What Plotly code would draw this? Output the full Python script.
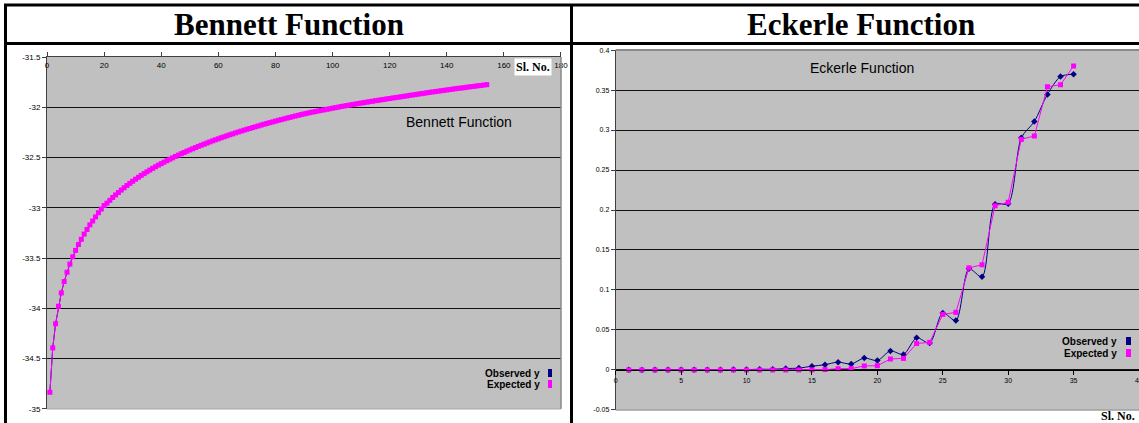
import plotly.graph_objects as go

# ---------------- data ----------------
bennett_sl_no = list(range(1, 155))
bennett_observed = [
    -34.8347, -34.3932, -34.1529, -33.9791, -33.8459, -33.7329, -33.6403, -33.5592, -33.4868, -33.4231,
    -33.3651, -33.3130, -33.2609, -33.2150, -33.1691, -33.1305, -33.0900, -33.0485, -33.0118, -32.9768,
    -32.953, -32.925, -32.897, -32.871, -32.847, -32.823, -32.800, -32.777, -32.756, -32.735,
    -32.715, -32.696, -32.677, -32.659, -32.641, -32.624, -32.607, -32.591, -32.575, -32.560,
    -32.545, -32.530, -32.516, -32.502, -32.488, -32.475, -32.461, -32.449, -32.436, -32.424,
    -32.412, -32.400, -32.388, -32.377, -32.366, -32.355, -32.344, -32.333, -32.323, -32.313,
    -32.302, -32.293, -32.283, -32.273, -32.264, -32.254, -32.245, -32.236, -32.227, -32.218,
    -32.210, -32.201, -32.193, -32.185, -32.176, -32.168, -32.160, -32.152, -32.145, -32.137,
    -32.129, -32.122, -32.115, -32.107, -32.100, -32.093, -32.086, -32.079, -32.072, -32.065,
    -32.059, -32.053, -32.047, -32.042, -32.036, -32.030, -32.025, -32.019, -32.014, -32.008,
    -32.003, -31.998, -31.992, -31.987, -31.982, -31.977, -31.972, -31.967, -31.962, -31.957,
    -31.953, -31.948, -31.943, -31.939, -31.934, -31.930, -31.925, -31.921, -31.916, -31.912,
    -31.907, -31.903, -31.899, -31.895, -31.890, -31.886, -31.881, -31.877, -31.873, -31.868,
    -31.864, -31.860, -31.855, -31.851, -31.847, -31.843, -31.839, -31.835, -31.831, -31.827,
    -31.823, -31.819, -31.815, -31.811, -31.808, -31.804, -31.800, -31.796, -31.793, -31.789,
    -31.785, -31.782, -31.778, -31.774,
]
bennett_expected = list(bennett_observed)

eckerle_sl_no = list(range(1, 36))
eckerle_observed = [
    0.0001575, 0.0000710, 0.0001699, 0.0001143, 0.0002350, 0.0001586, 0.0003102, 0.0002345,
    0.0004917, 0.0004579, 0.0008710, 0.0008800, 0.0017418, 0.0022732, 0.0046400, 0.0065895,
    0.0097302, 0.0074357, 0.0149002, 0.0117831, 0.0237310, 0.0194023, 0.0401683, 0.0337200,
    0.0712559, 0.0616764, 0.1264458, 0.1164354, 0.2073413, 0.2078154, 0.2902366, 0.3106727,
    0.3445623, 0.3668534, 0.3698049,
]
eckerle_expected = [
    0.0, 0.0, 0.0, 0.0, 0.0, 0.0, 0.0, 0.0, 0.0, 0.0, 0.0, 0.0, 0.0000004, 0.0000143,
    0.000106, 0.000438, 0.00158, 0.00169, 0.0050, 0.0053, 0.0137, 0.0144, 0.0330, 0.0345,
    0.0694, 0.0720, 0.1276, 0.1315, 0.2052, 0.2098, 0.2883, 0.2926, 0.3541, 0.3567, 0.3802,
]

bennett_x_ticks = [0, 20, 40, 60, 80, 100, 120, 140, 160, 180]
bennett_y_ticks = [-35, -34.5, -34, -33.5, -33, -32.5, -32, -31.5]
bennett_y_labels = ["-35", "-34.5", "-34", "-33.5", "-33", "-32.5", "-32", "-31.5"]
eckerle_x_ticks = [0, 5, 10, 15, 20, 25, 30, 35, 40]
eckerle_y_ticks = [-0.05, 0, 0.05, 0.1, 0.15, 0.2, 0.25, 0.3, 0.35, 0.4]
eckerle_y_labels = ["-0.05", "0", "0.05", "0.1", "0.15", "0.2", "0.25", "0.3", "0.35", "0.4"]

titles = ["Bennett Function", "Eckerle Function"]
series_names = ["Observed y", "Expected y"]

# ---------------- styling ----------------
W, H = 1139, 423
NAVY = "#000080"
MAGENTA = "#FF00FF"
SANS = "Liberation Sans, Arial, sans-serif"
SERIF = "Liberation Serif, Times New Roman, serif"


def px(x):
    return x / W


def py(y):
    return 1 - y / H


fig = go.Figure()

fig.add_trace(go.Scatter(
    x=bennett_sl_no, y=bennett_observed, mode="lines+markers", name=series_names[0],
    line=dict(color=NAVY, width=1), marker=dict(color=NAVY, size=3, symbol="diamond"),
    xaxis="x", yaxis="y", showlegend=False))
fig.add_trace(go.Scatter(
    x=bennett_sl_no, y=bennett_expected, mode="lines+markers", name=series_names[1],
    line=dict(color=MAGENTA, width=1), marker=dict(color=MAGENTA, size=5, symbol="square"),
    xaxis="x", yaxis="y", showlegend=False))
fig.add_trace(go.Scatter(
    x=eckerle_sl_no, y=eckerle_observed, mode="lines+markers", name=series_names[0],
    line=dict(color=NAVY, width=1, shape="spline", smoothing=0.8),
    marker=dict(color=NAVY, size=5, symbol="diamond"),
    xaxis="x2", yaxis="y2", showlegend=False))
fig.add_trace(go.Scatter(
    x=eckerle_sl_no, y=eckerle_expected, mode="lines+markers", name=series_names[1],
    line=dict(color=MAGENTA, width=1), marker=dict(color=MAGENTA, size=5, symbol="square"),
    xaxis="x2", yaxis="y2", showlegend=False))

# plot areas in pixels
L_X0, L_X1, L_Y0, L_Y1 = 47, 561, 57, 409
R_X0, R_X1, R_Y0, R_Y1 = 615.7, 1139, 50, 410

r_ydom = [py(R_Y1), py(R_Y0)]
r_yrange = [-0.05, 0.4]
zero_pos = r_ydom[0] + (0 - r_yrange[0]) / (r_yrange[1] - r_yrange[0]) * (r_ydom[1] - r_ydom[0])

tickfont_l = dict(family=SANS, size=8, color="#000")
tickfont_r = dict(family=SANS, size=7, color="#000")

fig.update_layout(
    width=W, height=H,
    autosize=False,
    margin=dict(l=0, r=0, t=0, b=0, pad=0, autoexpand=False),
    paper_bgcolor="white",
    plot_bgcolor="#C0C0C0",
    xaxis=dict(domain=[px(L_X0), px(L_X1)], range=[-0.01, 180.01], side="top", anchor="y",
               automargin=False,
               tickvals=bennett_x_ticks, ticktext=[str(v) for v in bennett_x_ticks],
               ticks="outside", ticklen=4, tickcolor="#404040",
               ticklabelposition="outside", ticklabelstandoff=-19,
               showline=True, linecolor="#404040", linewidth=1,
               showgrid=False, zeroline=False, tickfont=tickfont_l),
    yaxis=dict(domain=[py(L_Y1), py(L_Y0)], range=[-35.001, -31.499], anchor="x",
               automargin=False,
               tickvals=bennett_y_ticks, ticktext=bennett_y_labels,
               ticks="outside", ticklen=4, tickcolor="#404040",
               showline=True, linecolor="#404040", linewidth=1,
               showgrid=True, gridcolor="#111", gridwidth=1, zeroline=False, tickfont=tickfont_l),
    xaxis2=dict(domain=[px(R_X0), 1.0], range=[0, 40], anchor="free", position=zero_pos,
                automargin=False, ticklabeloverflow="allow",
                tickvals=eckerle_x_ticks, ticktext=[str(v) for v in eckerle_x_ticks],
                ticks="outside", ticklen=4, tickcolor="#000",
                showline=True, linecolor="#000", linewidth=1,
                showgrid=False, zeroline=False, tickfont=tickfont_r),
    yaxis2=dict(domain=r_ydom, range=[-0.0501, 0.4001], anchor="x2",
                automargin=False,
                tickvals=eckerle_y_ticks, ticktext=eckerle_y_labels,
                ticks="outside", ticklen=4, tickcolor="#404040",
                showline=True, linecolor="#404040", linewidth=1,
                showgrid=True, gridcolor="#111", gridwidth=1, zeroline=False, tickfont=tickfont_r),
)

shapes = []
# table frame
BLACK = "#000"
shapes.append(dict(type="line", xref="paper", yref="paper", x0=px(4), x1=1, y0=py(5), y1=py(5),
                   line=dict(color=BLACK, width=3)))
shapes.append(dict(type="line", xref="paper", yref="paper", x0=px(4), x1=1, y0=py(43.5), y1=py(43.5),
                   line=dict(color=BLACK, width=3)))
shapes.append(dict(type="line", xref="paper", yref="paper", x0=px(5.5), x1=px(5.5), y0=0, y1=py(4),
                   line=dict(color=BLACK, width=3)))
shapes.append(dict(type="line", xref="paper", yref="paper", x0=px(571.5), x1=px(571.5), y0=0, y1=py(4),
                   line=dict(color=BLACK, width=3)))
# plot-area gray borders
GRAY = "#8a8a8a"
shapes.append(dict(type="line", xref="paper", yref="paper", x0=px(L_X1), x1=px(L_X1), y0=py(L_Y1), y1=py(L_Y0),
                   line=dict(color=GRAY, width=1.5), layer="above"))
shapes.append(dict(type="line", xref="paper", yref="paper", x0=px(L_X0), x1=px(L_X1), y0=py(L_Y1), y1=py(L_Y1),
                   line=dict(color="#a8a8a8", width=1), layer="above"))
shapes.append(dict(type="line", xref="paper", yref="paper", x0=px(R_X0), x1=1, y0=py(R_Y0), y1=py(R_Y0),
                   line=dict(color=GRAY, width=2), layer="above"))
shapes.append(dict(type="line", xref="paper", yref="paper", x0=px(R_X0), x1=1, y0=py(R_Y1), y1=py(R_Y1),
                   line=dict(color="#a0a0a0", width=1.5), layer="above"))
# legend swatches
for (x0, x1, y0, y1, c) in [(548, 552, 369, 377, NAVY), (548, 552, 380, 388, MAGENTA),
                            (1126, 1131, 337, 345, NAVY), (1126, 1131, 349, 357, MAGENTA)]:
    shapes.append(dict(type="rect", xref="paper", yref="paper", x0=px(x0), x1=px(x1), y0=py(y1), y1=py(y0),
                       fillcolor=c, line=dict(width=0), layer="above"))
fig.update_layout(shapes=shapes)

ann = []
# cell titles
ann.append(dict(text="<b>" + titles[0] + "</b>", x=px(288.5), y=py(25), xref="paper", yref="paper",
                showarrow=False, xanchor="center", yanchor="middle",
                font=dict(family=SERIF, size=31, color="#000")))
ann.append(dict(text="<b>" + titles[1] + "</b>", x=px(860.5), y=py(25), xref="paper", yref="paper",
                showarrow=False, xanchor="center", yanchor="middle",
                font=dict(family=SERIF, size=31, color="#000")))
# in-plot labels
ann.append(dict(text=titles[0], x=px(404), y=py(122), xref="paper", yref="paper", showarrow=False,
                xanchor="left", yanchor="middle", font=dict(family=SANS, size=14, color="#000")))
ann.append(dict(text=titles[1], x=px(808), y=py(68), xref="paper", yref="paper", showarrow=False,
                xanchor="left", yanchor="middle", font=dict(family=SANS, size=14, color="#000")))
# axis title "Sl. No."
ann.append(dict(text="<b>Sl. No.</b>", x=px(533), y=py(67), xref="paper", yref="paper", showarrow=False,
                xanchor="center", yanchor="middle", bgcolor="white", borderpad=1,
                font=dict(family=SERIF, size=12, color="#000")))
ann.append(dict(text="<b>Sl. No.</b>", x=px(1137), y=py(415.5), xref="paper", yref="paper", showarrow=False,
                xanchor="right", yanchor="middle",
                font=dict(family=SERIF, size=12, color="#000")))
# legends
for (xr, yo, ye) in [(542, 373, 384), (1119, 341, 353)]:
    ann.append(dict(text="<b>" + series_names[0] + "</b>", x=px(xr), y=py(yo), xref="paper", yref="paper",
                    showarrow=False, xanchor="right", yanchor="middle",
                    font=dict(family=SANS, size=10, color="#000")))
    ann.append(dict(text="<b>" + series_names[1] + "</b>", x=px(xr), y=py(ye), xref="paper", yref="paper",
                    showarrow=False, xanchor="right", yanchor="middle",
                    font=dict(family=SANS, size=10, color="#000")))
fig.update_layout(annotations=ann)

page_fix = ("document.documentElement.style.margin='0';document.documentElement.style.overflow='hidden';"
            "document.body.style.margin='0';document.body.style.padding='0';"
            "document.body.style.overflow='hidden';")
fig.write_html("out.html", post_script=page_fix, config={"displayModeBar": False})
